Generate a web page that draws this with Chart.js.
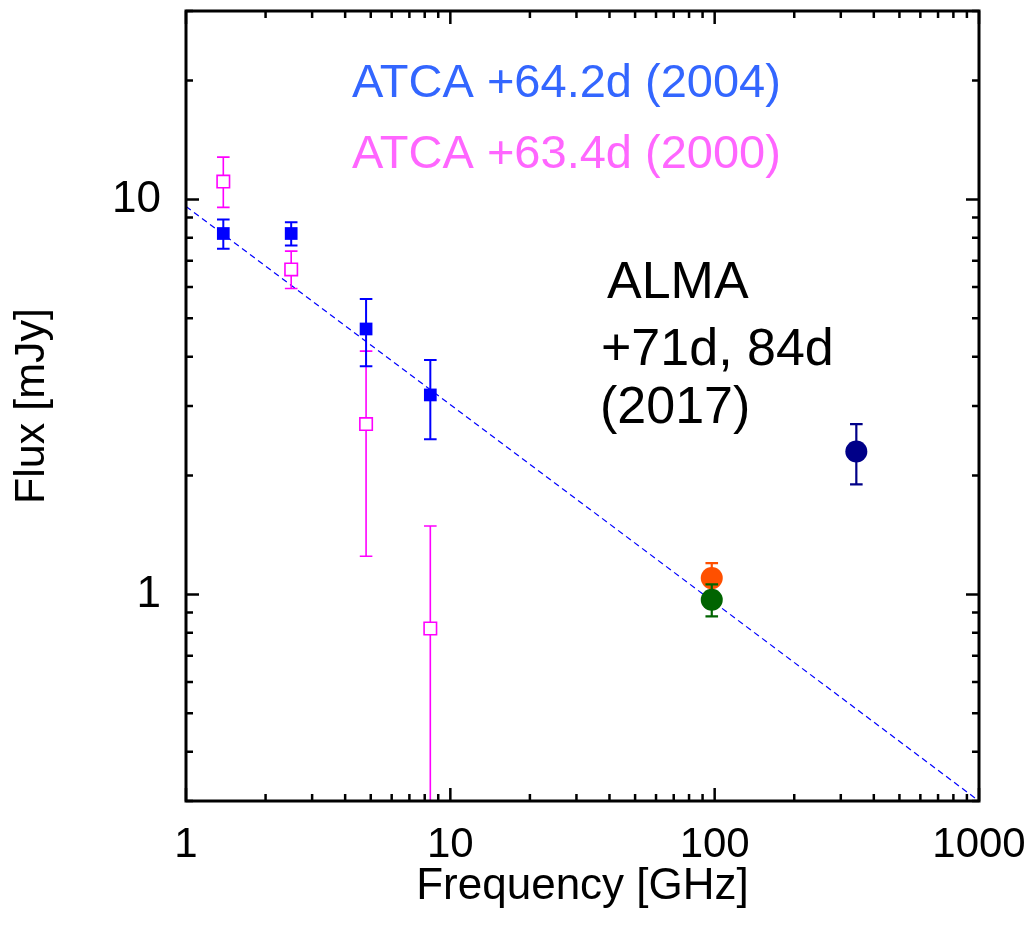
<!DOCTYPE html>
<html>
<head>
<meta charset="utf-8">
<script src="https://cdn.jsdelivr.net/npm/chart.js@4.4.1/dist/chart.umd.min.js"></script>
<style>
  html, body { margin: 0; padding: 0; background: #ffffff; }
  #wrap { width: 1036px; height: 935px; }
</style>
</head>
<body>
<div id="wrap"><canvas id="c" width="1036" height="935"></canvas></div>
<script>
// ---- data ----
// ATCA, +64.2 d (2004): frequency [GHz], flux [mJy] and error bounds
const atca2004Freq = [1.384, 2.5, 4.8, 8.4];
const atca2004Flux = [8.2, 8.2, 4.7, 3.2];
const atca2004Lo   = [7.5, 7.65, 3.78, 2.47];
const atca2004Hi   = [8.9, 8.75, 5.6, 3.92];

// ATCA, +63.4 d (2000)
const atca2000Freq = [1.384, 2.5, 4.8, 8.4];
const atca2000Flux = [11.1, 6.65, 2.7, 0.82];
const atca2000Lo   = [9.55, 5.95, 1.25, 0.15];
const atca2000Hi   = [12.8, 7.4, 4.13, 1.49];

// ALMA, +71 d / 84 d (2017)
const almaFreq   = [97.5, 97.5, 343.5];
const almaFlux   = [1.10, 0.97, 2.30];
const almaLo     = [1.00, 0.88, 1.90];
const almaHi     = [1.20, 1.06, 2.70];
const almaColors = ['#ff5000', '#006400', '#000088'];

// power-law reference line end points
const fitFreq = [1, 1000];
const fitFlux = [9.6, 0.30];

// axis labels
const xTickLabels = [1, 10, 100, 1000];
const yTickLabels = [1, 10];

const FONT = '"Liberation Sans", Arial, Helvetica, sans-serif';
Chart.defaults.font.family = FONT;
Chart.defaults.color = '#000000';

const pts = (xs, ys) => xs.map((x, i) => ({ x, y: ys[i] }));

// error bars, drawn just before their own dataset so markers sit on top
const errorBarPlugin = {
  id: 'errorBars',
  beforeDatasetDraw(chart, args) {
    const ds = chart.data.datasets[args.index];
    if (!ds.errLo) return;
    const { ctx, chartArea: a } = chart;
    const xs = chart.scales.x, ys = chart.scales.y;
    ctx.save();
    ctx.beginPath();
    ctx.rect(a.left, a.top, a.right - a.left, a.bottom - a.top);
    ctx.clip();
    ctx.lineWidth = ds.errWidth || 2;
    ds.data.forEach((p, i) => {
      const col = Array.isArray(ds.errColor) ? ds.errColor[i] : ds.errColor;
      const px = xs.getPixelForValue(p.x);
      const yl = ys.getPixelForValue(ds.errLo[i]);
      const yh = ys.getPixelForValue(ds.errHi[i]);
      const cw = 6.3;
      ctx.strokeStyle = col;
      ctx.beginPath();
      ctx.moveTo(px, yl); ctx.lineTo(px, yh);
      ctx.moveTo(px - cw, yl); ctx.lineTo(px + cw, yl);
      ctx.moveTo(px - cw, yh); ctx.lineTo(px + cw, yh);
      ctx.stroke();
    });
    ctx.restore();
  }
};

function logTickValues(min, max) {
  const out = [];
  for (let e = Math.floor(Math.log10(min)); e <= Math.ceil(Math.log10(max)); e++) {
    for (let m = 1; m <= 9; m++) {
      const v = m * Math.pow(10, e);
      if (v >= min * 0.9999 && v <= max * 1.0001) out.push({ v, major: m === 1 });
    }
  }
  return out;
}

// frame with inward major/minor ticks on all four sides
const framePlugin = {
  id: 'frame',
  afterDraw(chart) {
    const { ctx, chartArea: a } = chart;
    const xs = chart.scales.x, ys = chart.scales.y;
    ctx.save();
    ctx.strokeStyle = '#000000';
    ctx.lineCap = 'butt';
    ctx.lineWidth = 2.5;
    ctx.beginPath();
    logTickValues(xs.min, xs.max).forEach(t => {
      const px = xs.getPixelForValue(t.v);
      const len = t.major ? 13 : 7;
      ctx.moveTo(px, a.bottom); ctx.lineTo(px, a.bottom - len);
      ctx.moveTo(px, a.top); ctx.lineTo(px, a.top + len);
    });
    logTickValues(ys.min, ys.max).forEach(t => {
      const py = ys.getPixelForValue(t.v);
      const len = t.major ? 13 : 7;
      ctx.moveTo(a.left, py); ctx.lineTo(a.left + len, py);
      ctx.moveTo(a.right, py); ctx.lineTo(a.right - len, py);
    });
    ctx.stroke();
    ctx.lineWidth = 3;
    ctx.strokeRect(a.left, a.top, a.right - a.left, a.bottom - a.top);
    ctx.restore();
  }
};

// in-plot labels
const labelPlugin = {
  id: 'labels',
  afterDatasetsDraw(chart) {
    const { ctx } = chart;
    ctx.save();
    ctx.textAlign = 'left';
    ctx.textBaseline = 'alphabetic';
    ctx.font = '47px ' + FONT;
    ctx.fillStyle = '#3366ff';
    ctx.fillText('ATCA +64.2d (2004)', 352, 97);
    ctx.fillStyle = '#ff66ff';
    ctx.fillText('ATCA +63.4d (2000)', 352, 168);
    ctx.font = '52px ' + FONT;
    ctx.fillStyle = '#000000';
    ctx.fillText('ALMA', 607, 298);
    ctx.fillText('+71d, 84d', 601, 365);
    ctx.fillText('(2017)', 600, 423);
    ctx.restore();
  }
};

const noEdgePadding = s => {
  s.paddingTop = 0; s.paddingBottom = 0; s.paddingLeft = 0; s.paddingRight = 0;
};

new Chart(document.getElementById('c'), {
  type: 'scatter',
  data: {
    datasets: [
      {
        label: 'fit',
        data: pts(fitFreq, fitFlux),
        showLine: true,
        borderColor: '#0000ff',
        borderWidth: 1.2,
        borderDash: [6, 4],
        pointRadius: 0,
        order: 10
      },
      {
        label: 'ATCA +63.4d (2000)',
        data: pts(atca2000Freq, atca2000Flux),
        pointStyle: 'rect',
        pointRadius: 8.8,
        pointBorderWidth: 1.6,
        pointBorderColor: '#ff00ff',
        pointBackgroundColor: '#ffffff',
        errLo: atca2000Lo, errHi: atca2000Hi, errColor: '#ff00ff', errWidth: 1.6,
        order: 5
      },
      {
        label: 'ATCA +64.2d (2004)',
        data: pts(atca2004Freq, atca2004Flux),
        pointStyle: 'rect',
        pointRadius: 9,
        pointBorderWidth: 0,
        pointBackgroundColor: '#0000ff',
        errLo: atca2004Lo, errHi: atca2004Hi, errColor: '#0000ff', errWidth: 2,
        order: 4
      },
      {
        label: 'ALMA 97.5 GHz (a)',
        data: pts([almaFreq[0]], [almaFlux[0]]),
        pointRadius: 11,
        pointBorderWidth: 0,
        pointBackgroundColor: almaColors[0],
        errLo: [almaLo[0]], errHi: [almaHi[0]], errColor: almaColors[0], errWidth: 2.2,
        order: 3
      },
      {
        label: 'ALMA 97.5 GHz (b)',
        data: pts([almaFreq[1]], [almaFlux[1]]),
        pointRadius: 11,
        pointBorderWidth: 0,
        pointBackgroundColor: almaColors[1],
        errLo: [almaLo[1]], errHi: [almaHi[1]], errColor: almaColors[1], errWidth: 2.2,
        order: 2
      },
      {
        label: 'ALMA 343.5 GHz',
        data: pts([almaFreq[2]], [almaFlux[2]]),
        pointRadius: 11,
        pointBorderWidth: 0,
        pointBackgroundColor: almaColors[2],
        errLo: [almaLo[2]], errHi: [almaHi[2]], errColor: almaColors[2], errWidth: 2.2,
        order: 1
      }
    ]
  },
  options: {
    responsive: false,
    animation: false,
    devicePixelRatio: 1,
    layout: { padding: { left: 0, right: 57, top: 8, bottom: 0 } },
    plugins: { legend: { display: false }, tooltip: { enabled: false } },
    scales: {
      x: {
        type: 'logarithmic',
        position: 'bottom',
        min: 1, max: 1000,
        afterBuildTicks: s => { s.ticks = xTickLabels.map(v => ({ value: v })); },
        afterFit: s => { s.height = 134; noEdgePadding(s); },
        grid: { display: false, drawTicks: false },
        border: { display: false },
        ticks: {
          autoSkip: false, maxRotation: 0,
          padding: 19,
          font: { size: 42 },
          color: '#000000',
          callback: v => String(v)
        },
        title: {
          display: true, text: 'Frequency [GHz]',
          font: { size: 44 }, color: '#000000',
          padding: { top: 0, bottom: 22 }
        }
      },
      y: {
        type: 'logarithmic',
        position: 'left',
        min: 0.3, max: 30,
        afterBuildTicks: s => { s.ticks = yTickLabels.map(v => ({ value: v })); },
        afterFit: s => { s.width = 186; noEdgePadding(s); },
        grid: { display: false, drawTicks: false },
        border: { display: false },
        ticks: {
          autoSkip: false,
          padding: 25,
          font: { size: 44 },
          color: '#000000',
          callback: v => String(v)
        },
        title: {
          display: true, text: 'Flux [mJy]',
          font: { size: 43 }, color: '#000000',
          padding: { top: 6, bottom: 0 }
        }
      }
    }
  },
  plugins: [errorBarPlugin, framePlugin, labelPlugin]
});
</script>
</body>
</html>
